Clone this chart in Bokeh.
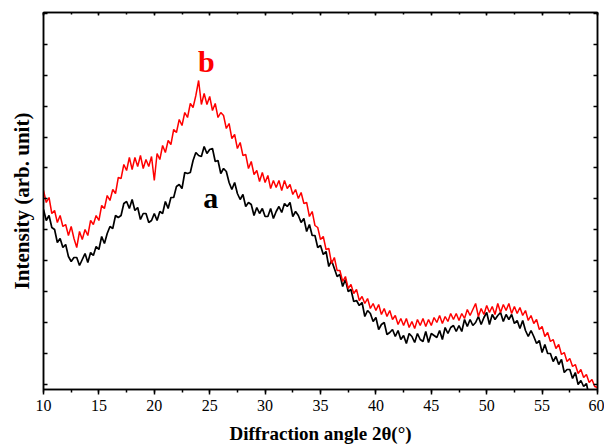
from bokeh.plotting import figure
from bokeh.models import Range1d, LinearAxis, SingleIntervalTicker, FixedTicker, CustomJSTickFormatter
from bokeh.core.properties import value
from bokeh.embed import file_html
from bokeh.resources import INLINE

# ---- data (arbitrary intensity units) ----
two_theta_start = 10.0   # degrees
two_theta_step = 0.25    # degrees per sample

# curve a (black), 10..60 deg
intensity_a = [
    180, 169, 174, 162,   # 10
    160, 147, 151, 142,   # 11
    145, 133, 128, 132,   # 12
    132, 124, 130, 136,   # 13
    127, 137, 134, 143,   # 14
    140, 153, 146, 156,   # 15
    163, 161, 174, 172,   # 16
    174, 186, 188, 181,   # 17
    190, 179, 182, 170,   # 18
    176, 176, 167, 169,   # 19
    176, 169, 178, 176,   # 20
    188, 181, 192, 192,   # 21
    203, 205, 201, 217,   # 22
    216, 217, 229, 237,   # 23
    234, 233, 243, 236,   # 24
    240, 241, 228, 229,   # 25
    216, 221, 218, 207,   # 26
    200, 207, 196, 190,   # 27
    195, 183, 187, 185,   # 28
    174, 182, 176, 181,   # 29
    173, 173, 181, 171,   # 30
    178, 183, 177, 186,   # 31
    183, 187, 173, 178,   # 32
    174, 167, 171, 158,   # 33
    165, 154, 154, 142,   # 34
    144, 135, 138, 123,   # 35
    129, 121, 113, 115,   # 36
    103, 110, 98, 100,    # 37
    88, 89, 84, 87,       # 38
    73, 79, 76, 68,       # 39
    72, 60, 65, 67,       # 40
    55, 57, 60, 53,       # 41
    59, 50, 54, 46,       # 42
    56, 53, 47, 56,       # 43
    50, 48, 58, 47,       # 44
    56, 54, 52, 59,       # 45
    50, 62, 56, 62,       # 46
    64, 58, 64, 58,       # 47
    70, 63, 70, 64,       # 48
    67, 73, 65, 72,       # 49
    77, 65, 75, 70,       # 50
    74, 77, 68, 75,       # 51
    70, 75, 66, 69,       # 52
    61, 69, 59, 53,       # 53
    59, 53, 46, 49,       # 54
    37, 45, 36, 36,       # 55
    28, 33, 25, 30,       # 56
    17, 20, 20, 11,       # 57
    17, 5, 9, 3,          # 58
    6, -7, 0, -4,         # 59
    -7,                   # 60
]

# curve b (red), 10..60 deg
intensity_b = [
    199, 187, 192, 176,   # 10
    179, 167, 174, 163,   # 11
    165, 154, 163, 151,   # 12
    142, 158, 150, 160,   # 13
    154, 169, 165, 174,   # 14
    169, 184, 181, 194,   # 15
    189, 200, 196, 212,   # 16
    211, 225, 219, 232,   # 17
    220, 232, 223, 234,   # 18
    221, 230, 223, 233,   # 19
    209, 236, 230, 244,   # 20
    237, 249, 245, 260,   # 21
    257, 270, 264, 277,   # 22
    272, 286, 282, 294,   # 23
    309, 285, 296, 285,   # 24
    293, 279, 286, 272,   # 25
    277, 274, 261, 266,   # 26
    251, 255, 241, 247,   # 27
    234, 235, 221, 228,   # 28
    215, 219, 208, 217,   # 29
    207, 214, 201, 209,   # 30
    202, 209, 199, 209,   # 31
    201, 205, 195, 200,   # 32
    191, 197, 186, 187,   # 33
    173, 178, 164, 162,   # 34
    150, 153, 140, 141,   # 35
    126, 132, 119, 119,   # 36
    108, 113, 101, 105,   # 37
    96, 100, 89, 93,      # 38
    86, 91, 81, 86,       # 39
    79, 85, 75, 81,       # 40
    73, 79, 70, 74,       # 41
    65, 71, 64, 71,       # 42
    62, 68, 61, 70,       # 43
    64, 71, 63, 70,       # 44
    64, 72, 67, 74,       # 45
    66, 73, 68, 76,       # 46
    70, 76, 69, 76,       # 47
    71, 80, 74, 80,       # 48
    86, 73, 81, 75,       # 49
    84, 77, 83, 75,       # 50
    86, 77, 85, 79,       # 51
    86, 76, 83, 76,       # 52
    82, 74, 79, 69,       # 53
    74, 66, 70, 60,       # 54
    63, 53, 57, 48,       # 55
    50, 41, 45, 35,       # 56
    37, 28, 31, 23,       # 57
    25, 16, 20, 12,       # 58
    15, 7, 10, 3,         # 59
    2,                    # 60
]

two_theta_a = [two_theta_start + two_theta_step * i for i in range(len(intensity_a))]
two_theta_b = [two_theta_start + two_theta_step * i for i in range(len(intensity_b))]

curve_labels = ["a", "b"]
curve_label_x = [25.1, 24.7]
curve_label_y = [192, 328]
curve_colors = ["#000000", "#ff0000"]

x_ticks_interval = 5
y_tick_positions = [5, 36, 67, 98, 129, 160, 191, 222, 252, 283, 314, 345, 376]

SERIF = "Liberation Serif"

p = figure(width=604, height=448, output_backend="svg", toolbar_location=None,
           x_range=Range1d(10, 60), y_range=Range1d(0, 377),
           min_border_left=43, min_border_right=7, min_border_top=12, min_border_bottom=59,
           background_fill_color="white", border_fill_color="white")
p.xgrid.visible = False
p.ygrid.visible = False
p.outline_line_color = "black"
p.outline_line_width = 1.5
p.outline_line_alpha = 1.0

empty_fmt = CustomJSTickFormatter(code="return ''")

# bottom axis
xa = p.xaxis[0]
xa.ticker = SingleIntervalTicker(interval=x_ticks_interval, num_minor_ticks=2)
xa.major_tick_out = 5
xa.major_tick_in = 0
xa.minor_tick_out = 3
xa.minor_tick_in = 0
xa.major_tick_line_width = 1.5
xa.minor_tick_line_width = 1.5
xa.axis_line_width = 1.5
xa.major_label_text_font = SERIF
xa.major_label_text_font_size = "16px"
xa.major_label_text_color = "black"
xa.major_label_standoff = 5
xa.axis_label = "Diffraction angle 2θ(°)"
xa.axis_label_text_font = SERIF
xa.axis_label_text_font_style = "bold"
xa.axis_label_text_font_size = "19px"
xa.axis_label_text_color = "black"
xa.axis_label_standoff = 9

# left axis
ya = p.yaxis[0]
ya.ticker = FixedTicker(ticks=y_tick_positions)
ya.formatter = empty_fmt
ya.major_tick_in = 4
ya.major_tick_out = 0
ya.major_tick_line_width = 1.5
ya.axis_line_width = 1.5
ya.major_label_standoff = 0
ya.axis_label = "Intensity (arb. unit)"
ya.axis_label_text_font = SERIF
ya.axis_label_text_font_style = "bold"
ya.axis_label_text_font_size = "21px"
ya.axis_label_text_color = "black"
ya.axis_label_standoff = 10

# right axis (ticks only)
ra = LinearAxis(ticker=FixedTicker(ticks=y_tick_positions), formatter=empty_fmt,
                major_tick_in=4, major_tick_out=0, major_tick_line_width=1.5,
                axis_line_width=1.5, major_label_standoff=0)
p.add_layout(ra, "right")

# top axis (ticks only)
ta = LinearAxis(ticker=SingleIntervalTicker(interval=x_ticks_interval, num_minor_ticks=2),
                formatter=empty_fmt, major_tick_in=3, major_tick_out=0,
                minor_tick_in=2, minor_tick_out=0, major_tick_line_width=1.5,
                minor_tick_line_width=1.5, axis_line_width=1.5, major_label_standoff=0)
p.add_layout(ta, "above")

p.line(two_theta_a, intensity_a, line_color=curve_colors[0], line_width=1.7)
p.line(two_theta_b, intensity_b, line_color=curve_colors[1], line_width=1.5)

p.text(x=curve_label_x, y=curve_label_y, text=curve_labels, text_color=curve_colors,
       text_font=value(SERIF), text_font_style="bold", text_font_size="30px",
       text_align="center", text_baseline="alphabetic")

open("out.html", "w").write(file_html(p, INLINE))
